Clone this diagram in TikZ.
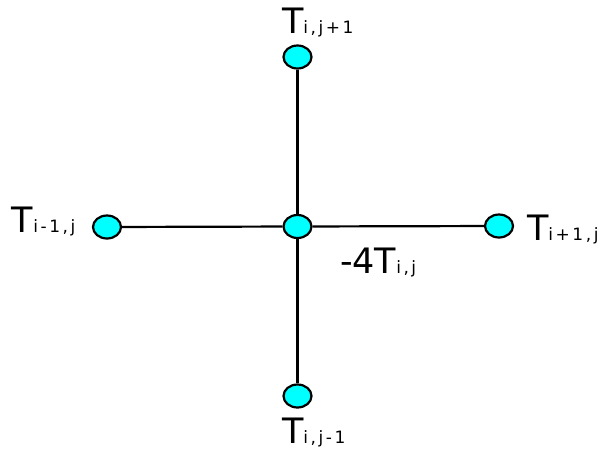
\documentclass[tikz,border=0pt]{standalone}
\usepackage{fontspec}
\setmainfont{DejaVu Sans}
\newfontfamily\subf[LetterSpace=15]{DejaVu Sans}
\usetikzlibrary{shapes.geometric}
\definecolor{nodecyan}{RGB}{0,255,255}
\newcommand\bigT[1]{{\fontsize{35}{35}\selectfont #1}}
\newcommand\subT[1]{{\subf\fontsize{17}{17}\selectfont #1}}
\tikzset{
  grid pt/.style={ellipse, draw=black, fill=nodecyan, line width=2.2pt, minimum width=28pt, minimum height=23pt, inner sep=0pt},
  conn/.style={line width=2.2pt, draw=black},
  lbl/.style={anchor=base west, inner sep=0pt, outer sep=0pt}
}
\begin{document}
\begin{tikzpicture}[x=1pt, y=-1pt]
\useasboundingbox (0,0) rectangle (605,450);
\node[grid pt] (c) at (297.5,226.5) {};
\node[grid pt] (t) at (297.5,57) {};
\node[grid pt] (b) at (297.5,396) {};
\node[grid pt] (l) at (107,227) {};
\node[grid pt] (r) at (499,226) {};
\draw[conn] (c) -- (t);
\draw[conn] (c) -- (b);
\draw[conn] (c) -- (l);
\draw[conn] (c) -- (r);
\node[lbl] (lt) at (282,33) {\bigT{T}\subT{i,j+1}};
\node[lbl] (lb) at (282,443) {\bigT{T}\subT{i,j-1}};
\node[lbl] (ll) at (12,232) {\bigT{T}\subT{i-1,j}};
\node[lbl] (lr) at (527,240) {\bigT{T}\subT{i+1,j}};
\node[lbl] (lc) at (340,273) {\bigT{-4T}\subT{i,j}};
\end{tikzpicture}
\end{document}
